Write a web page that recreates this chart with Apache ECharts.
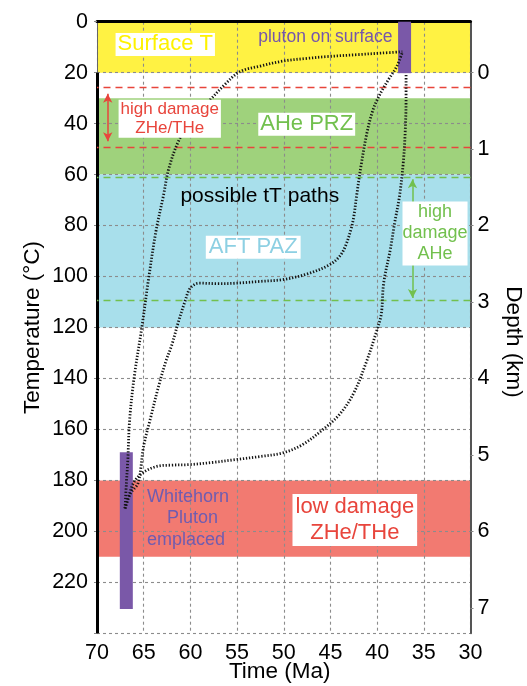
<!DOCTYPE html>
<html>
<head>
<meta charset="utf-8">
<script src="https://cdn.jsdelivr.net/npm/echarts@6/dist/echarts.min.js"></script>
<style>
  html, body { margin: 0; padding: 0; background: #ffffff; }
  #chart { width: 527px; height: 686px; }
</style>
</head>
<body>
<div id="chart"></div>
<script>
const FONT = '"Liberation Sans", Arial, Helvetica, sans-serif';

// Axes: time in Ma (older to the left), temperature in °C (increasing downward)
const timeRange = [30, 70];
const tempRange = [0, 240];

// Depth scale on the right: 0 km at a 20 °C surface, 30 °C per km
const surfaceTemp = 20;
const geothermalGradient = 30;
const depthTicks = [0, 1, 2, 3, 4, 5, 6, 7];

// Temperature zones (°C)
const zoneNames = ['Surface T', 'AHe PRZ', 'AFT PAZ', 'low damage ZHe/THe'];
const zoneTop = [0, 30, 60, 180];
const zoneBottom = [20, 60, 120, 210];

// Radiation-damage limits (°C) and the arrows spanning them
const zheDamageLimits = [25.7, 49.1];
const aheDamageLimits = [61.2, 109.4];
const zheArrowTime = 68.85;
const zheArrowTemps = [28.3, 46.9];
const aheArrowTime = 36.21;
const aheArrowTemps = [61.8, 108.4];

// Whitehorn pluton: emplacement and exposure at the surface
const plutonTime = [66.86, 37.06];
const plutonTopTemp = [169, 0];
const plutonBottomTemp = [230.5, 20.2];

// Candidate time–temperature paths
const pathATime = [67.0, 66.85, 66.7, 66.5, 66.0, 65.2, 64.5, 63.7, 62.9, 62.3, 61.2, 59.7, 57.9, 56.3, 54.7, 52.5, 50.0, 47.5, 45.4, 42.0, 39.5, 37.3];
const pathATemp = [191, 181, 172, 156, 139, 120, 101.5, 82.5, 68.5, 57.5, 46.3, 37.2, 30.7, 24.6, 19.6, 17.4, 15.4, 14.4, 13.7, 12.9, 12.3, 11.8];

const pathBTime = [67.0, 66.4, 65.6, 65.0, 64.3, 63.4, 62.6, 62.0, 61.3, 60.6, 60.1, 59.5, 59.0, 57.0, 55.1, 52.5, 50.1, 47.5, 45.1, 44.0, 43.4, 42.8, 42.5, 42.2, 41.7, 41.1, 40.5, 40.0, 39.4, 38.8, 37.9, 37.3];
const pathBTemp = [191, 185, 181, 166.5, 156, 143, 133, 127, 118, 110, 105, 103, 102.6, 102.8, 102.6, 101.9, 101.2, 99, 95.4, 92, 88.1, 81.5, 76.5, 68.4, 56, 43.8, 35.2, 30.7, 26.5, 22.8, 17.6, 12];

const pathCTime = [67.0, 66.5, 66.0, 65.1, 63.6, 62.0, 60.1, 57.5, 55.1, 52.5, 50.1, 48.0, 45.8, 44.0, 42.5, 41.2, 40.0, 39.55, 39.3, 38.6, 38.1, 37.6, 37.2, 37.0, 36.9, 36.9];
const pathCTemp = [191, 185, 180.5, 177, 174.5, 174, 173.8, 172.9, 171.8, 170.6, 169.2, 166, 160, 154, 145.7, 134, 120.8, 114.7, 102.6, 89.6, 78.5, 68.4, 55.3, 43.8, 30.2, 20.1];

const zoneColors = ['#fff243', '#9fd27c', '#a8dfeb', '#f27a71'];
const purple = '#7a58a8';
const red = '#e8453c';
const green = '#72c04e';

const zip = (xs, ys) => xs.map((x, i) => [x, ys[i]]);
const toDepth = (t) => (t - surfaceTemp) / geothermalGradient;
const depthTickTemps = depthTicks.map(d => surfaceTemp + geothermalGradient * d);

const gridLine = { show: true, lineStyle: { color: '#8c8c8c', type: [3, 3], width: 1.1 } };
const tickFont = { fontFamily: FONT, fontSize: 21.5, color: '#000' };
const titleFont = { fontFamily: FONT, fontSize: 22.5, color: '#000' };

function pathSeries(name, time, temp) {
  return {
    name: name,
    type: 'line',
    z: 6,
    data: zip(time, temp),
    showSymbol: false,
    smooth: 0.35,
    silent: true,
    lineStyle: { color: '#151515', width: 2.8, type: [1.3, 1.8], cap: 'butt' }
  };
}

function note(time, temp, text, opts) {
  return {
    value: [time, temp],
    label: Object.assign({
      show: true,
      formatter: text,
      position: 'inside',
      fontFamily: FONT,
      fontSize: 22,
      color: '#000',
      opacity: 1
    }, opts)
  };
}

const chart = echarts.init(document.getElementById('chart'), null, { renderer: 'canvas' });

chart.setOption({
  animation: false,
  backgroundColor: '#ffffff',
  grid: { left: 97, right: 56.5, top: 21.7, bottom: 52.7, containLabel: false, outerBoundsMode: 'none' },
  xAxis: {
    type: 'value',
    min: timeRange[0],
    max: timeRange[1],
    interval: 5,
    inverse: true,
    z: 3,
    name: 'Time (Ma)',
    nameLocation: 'middle',
    nameGap: 27,
    nameMoveOverlap: false,
    nameTextStyle: Object.assign({ padding: [0, 8, 0, 0] }, titleFont),
    axisLine: { lineStyle: { color: '#000', width: 3 } },
    axisTick: { show: false },
    axisLabel: Object.assign({ margin: 9 }, tickFont),
    splitLine: gridLine
  },
  yAxis: [{
    type: 'value',
    min: tempRange[0],
    max: tempRange[1],
    interval: 20,
    inverse: true,
    z: 3,
    name: 'Temperature (°C)',
    nameLocation: 'middle',
    nameRotate: 90,
    nameGap: 53,
    nameMoveOverlap: false,
    nameTextStyle: titleFont,
    axisLine: { show: true, lineStyle: { color: '#666', width: 1 } },
    axisTick: { show: true, length: 3, lineStyle: { color: '#888' } },
    axisLabel: Object.assign({
      margin: 9,
      formatter: (v) => (v === tempRange[1] ? '' : String(v))
    }, tickFont),
    splitLine: gridLine
  }, {
    type: 'value',
    min: tempRange[0],
    max: tempRange[1],
    inverse: true,
    position: 'right',
    z: 3,
    name: 'Depth (km)',
    nameLocation: 'middle',
    nameRotate: -90,
    nameGap: 31,
    nameMoveOverlap: false,
    nameTextStyle: Object.assign({ padding: [0, 0, 0, 29] }, titleFont),
    axisLine: { show: true, lineStyle: { color: '#555', width: 2 } },
    axisTick: { show: true, length: 3, customValues: depthTickTemps, lineStyle: { color: '#888' } },
    axisLabel: Object.assign({
      margin: 7,
      customValues: depthTickTemps,
      formatter: (v) => String(Math.round(toDepth(v)))
    }, tickFont),
    splitLine: { show: false }
  }],
  series: [
    {
      // temperature zones, drawn beneath the grid lines
      name: 'zones',
      type: 'custom',
      z: 1,
      silent: true,
      data: zoneNames.map((n, i) => [zoneTop[i], zoneBottom[i], i]),
      renderItem: function (params, api) {
        const p1 = api.coord([timeRange[1], api.value(0)]);
        const p2 = api.coord([timeRange[0], api.value(1)]);
        return {
          type: 'rect',
          shape: { x: p1[0], y: p1[1], width: p2[0] - p1[0], height: p2[1] - p1[1] },
          style: { fill: zoneColors[api.value(2)] }
        };
      }
    },
    {
      // black left spine below the surface zone
      name: 'spine',
      type: 'line',
      z: 4,
      data: [],
      silent: true,
      markLine: {
        silent: true,
        symbol: 'none',
        label: { show: false },
        lineStyle: { color: '#000', width: 3, type: 'solid' },
        data: [[{ coord: [timeRange[1], zoneBottom[0]] }, { coord: [timeRange[1], tempRange[1]] }]]
      }
    },
    {
      name: 'damage limits',
      type: 'line',
      z: 4,
      data: [],
      silent: true,
      markLine: {
        silent: true,
        symbol: 'none',
        label: { show: false },
        data: [
          ...zheDamageLimits.map(t => ({ yAxis: t, lineStyle: { color: red, width: 1.3, type: [7, 5] } })),
          ...aheDamageLimits.map(t => ({ yAxis: t, lineStyle: { color: green, width: 1.3, type: [7, 5] } }))
        ]
      }
    },
    {
      name: 'damage arrows',
      type: 'line',
      z: 4,
      data: [],
      silent: true,
      markLine: {
        silent: true,
        symbol: ['arrow', 'arrow'],
        symbolSize: [7, 9],
        label: { show: false },
        data: [
          [{ coord: [zheArrowTime, zheArrowTemps[0]], lineStyle: { color: red, width: 1.5, type: 'solid' } },
           { coord: [zheArrowTime, zheArrowTemps[1]] }],
          [{ coord: [aheArrowTime, aheArrowTemps[0]], lineStyle: { color: green, width: 1.5, type: 'solid' } },
           { coord: [aheArrowTime, aheArrowTemps[1]] }]
        ]
      }
    },
    {
      name: 'pluton',
      type: 'custom',
      z: 5,
      silent: true,
      data: plutonTime.map((t, i) => [t, plutonTopTemp[i], plutonBottomTemp[i]]),
      renderItem: function (params, api) {
        const top = api.coord([api.value(0), api.value(1)]);
        const bottom = api.coord([api.value(0), api.value(2)]);
        return {
          type: 'rect',
          shape: { x: top[0] - 6.5, y: top[1], width: 13, height: bottom[1] - top[1] },
          style: { fill: purple }
        };
      }
    },
    pathSeries('path A', pathATime, pathATemp),
    pathSeries('path B', pathBTime, pathBTemp),
    pathSeries('path C', pathCTime, pathCTemp),
    {
      name: 'annotations',
      type: 'scatter',
      z: 8,
      silent: true,
      symbolSize: 1,
      itemStyle: { color: 'rgba(0,0,0,0)', opacity: 1 },
      data: [
        note(62.69, 8.9, zoneNames[0], { color: '#fef200', backgroundColor: '#fff', padding: [1, 2, 0, 2] }),
        note(38.3, 5.9, 'pluton on surface', { position: 'left', distance: 0, fontSize: 17.5, color: '#7656ab' }),
        note(62.21, 38.1, 'high damage\nZHe/THe', { fontSize: 17, lineHeight: 19, color: red, backgroundColor: '#fff', padding: [0, 2, 0, 2] }),
        note(47.54, 40.2, zoneNames[1], { color: green, backgroundColor: '#fff', padding: [1, 2, 0, 2] }),
        note(52.57, 68.6, 'possible tT paths', { fontSize: 21 }),
        note(53.27, 88.5, zoneNames[2], { color: '#8dd0e3', backgroundColor: '#fff', padding: [1, 3, 0, 3] }),
        note(33.80, 83.1, 'high\ndamage\nAHe', { fontSize: 18, lineHeight: 21, color: green, backgroundColor: '#fff', padding: [1, 0, 0, 0] }),
        note(64.7, 194.8, 'Whitehorn\n    Pluton\nemplaced', { position: 'right', distance: 0, fontSize: 18, lineHeight: 21.5, align: 'left', color: '#6f5cb0' }),
        note(42.39, 195.5, 'low damage\nZHe/THe', { fontSize: 22, lineHeight: 26, color: red, backgroundColor: '#fff', padding: [0, 3, 0, 3] })
      ]
    }
  ]
});
</script>
</body>
</html>
